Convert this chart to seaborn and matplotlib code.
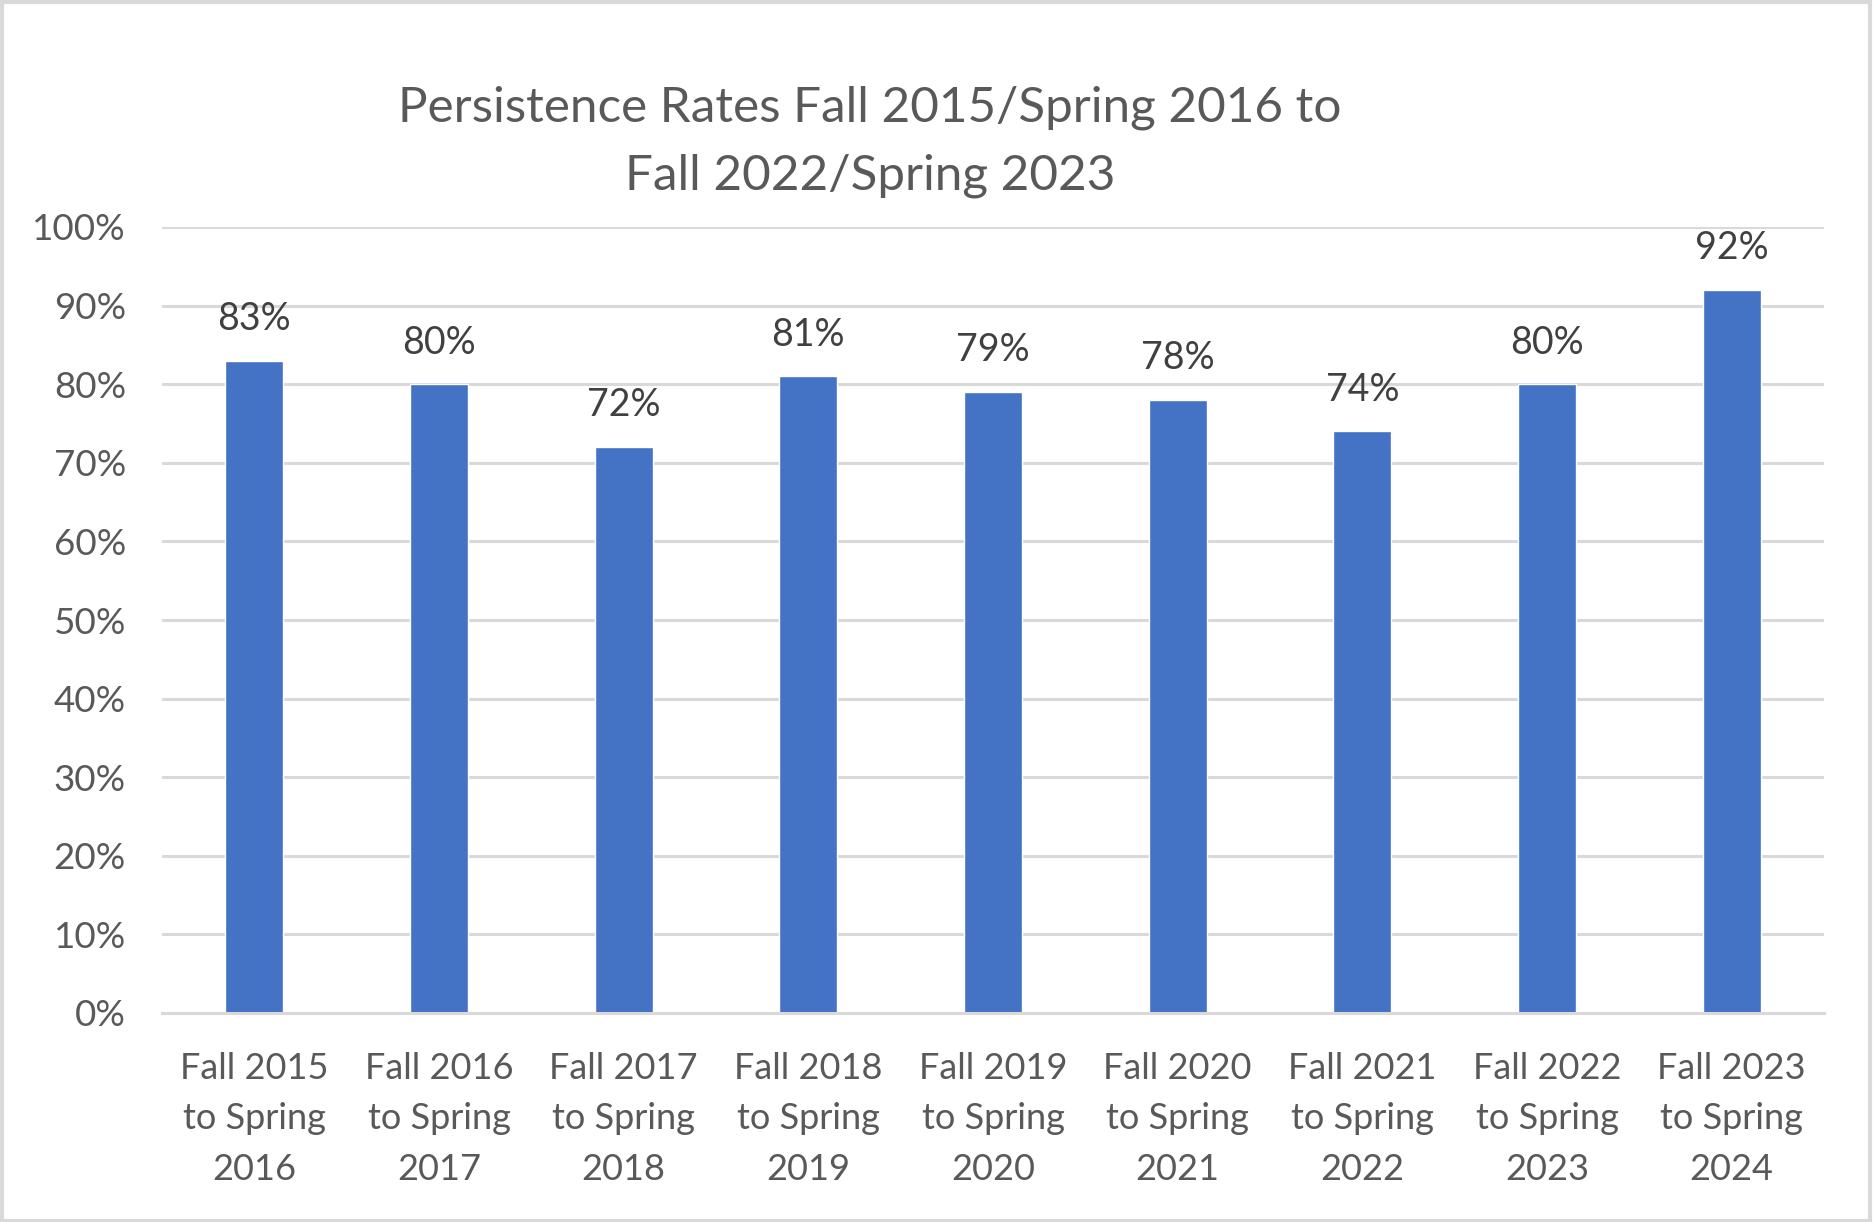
import matplotlib
matplotlib.use("Agg")
import matplotlib.pyplot as plt
import seaborn as sns
import pandas as pd
from matplotlib.patches import Rectangle

categories = ["Fall 2015\nto Spring\n2016", "Fall 2016\nto Spring\n2017", "Fall 2017\nto Spring\n2018",
              "Fall 2018\nto Spring\n2019", "Fall 2019\nto Spring\n2020", "Fall 2020\nto Spring\n2021",
              "Fall 2021\nto Spring\n2022", "Fall 2022\nto Spring\n2023", "Fall 2023\nto Spring\n2024"]
rates = [83, 80, 72, 81, 79, 78, 74, 80, 92]
yticks = [0, 10, 20, 30, 40, 50, 60, 70, 80, 90, 100]
title = "Persistence Rates Fall 2015/Spring 2016 to\nFall 2022/Spring 2023"

sns.set_theme(style="white")
plt.rcParams['font.family'] = ['Lato', 'DejaVu Sans']

df = pd.DataFrame({"cat": categories, "rate": rates})

fig = plt.figure(figsize=(18.76, 12.22), dpi=100)
ax = fig.add_axes([162/1876, 1 - 1013/1222, (1824-162)/1876, (1013-227)/1222])

sns.barplot(data=df, x="cat", y="rate", color="#4472C4", saturation=1, width=0.314, ax=ax, zorder=3)

ax.set_ylim(0, 100)
ax.set_xlim(-0.5, len(categories) - 0.5)
ax.set_yticks(yticks)
ax.set_yticklabels([f"{v}%" for v in yticks], color="#595959", fontsize=26.5)
ax.tick_params(axis="x", labelsize=26, colors="#595959", length=0, pad=28)
ax.tick_params(axis="y", length=0, pad=26)
for lbl in ax.get_xticklabels():
    lbl.set_linespacing(1.65)
ax.set_xlabel("")
ax.set_ylabel("")
ax.grid(axis="y", color="#d9d9d9", linewidth=2.2, zorder=0)
for s in ["top", "right", "left"]:
    ax.spines[s].set_visible(False)
ax.spines["bottom"].set_color("#d9d9d9")
ax.spines["bottom"].set_linewidth(2.2)
ax.spines["bottom"].set_zorder(4)

for cont in ax.containers:
    ax.bar_label(cont, labels=[f"{v}%" for v in rates], padding=17, fontsize=27, color="#404040")

fig.text(870/1876, 1 - 142/1222, title, ha="center", va="center", fontsize=35.6,
         color="#595959", linespacing=1.64)

fig.patches.append(Rectangle((0.001, 0.001), 0.996, 0.997, transform=fig.transFigure,
                             fill=False, edgecolor="#d9d9d9", linewidth=3))

fig.savefig("out.png", dpi=100)
